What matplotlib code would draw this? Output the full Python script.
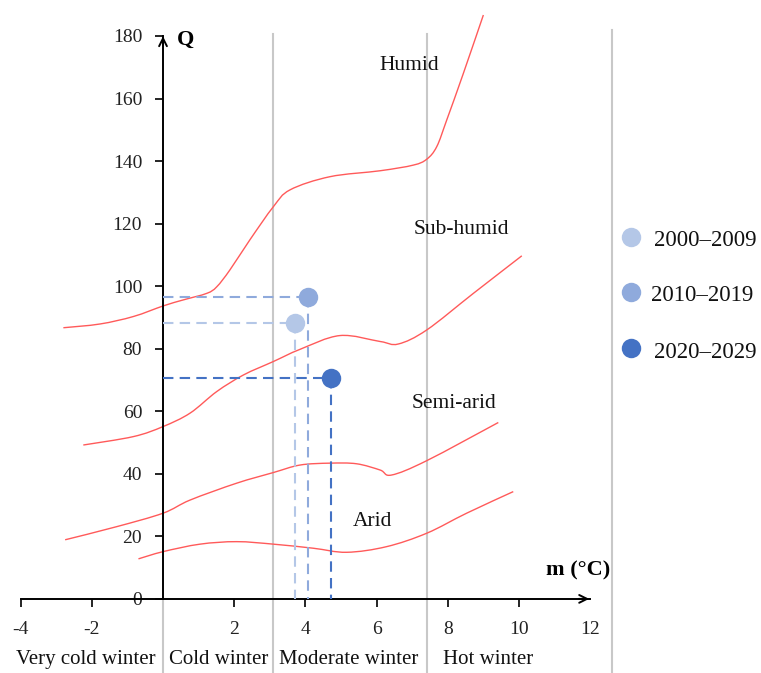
import matplotlib
matplotlib.use("Agg")
import matplotlib.pyplot as plt
import numpy as np
from matplotlib.path import Path
from matplotlib.patches import PathPatch

plt.rcParams['font.family'] = ['Liberation Serif', 'DejaVu Serif']

# ---- data ----
humid_x = [-2.80, -1.77, -0.83, 0.01, 0.57, 1.23, 1.51, 1.88, 2.44, 3.10, 3.57, 4.69, 6.10, 7.03, 7.41, 7.69, 7.97, 8.44, 9.00]
humid_y = [86.7, 87.9, 90.3, 93.7, 95.6, 97.7, 99.8, 105.2, 114.8, 125.4, 130.8, 135.0, 136.9, 138.7, 140.6, 144.6, 153.1, 168.1, 186.7]

subhumid_x = [-2.24, -0.83, 0.0, 0.76, 1.51, 2.26, 3.10, 3.85, 4.97, 6.10, 6.61, 7.41, 8.72, 10.08]
subhumid_y = [49.2, 51.9, 55.1, 59.4, 66.3, 71.6, 75.9, 79.8, 84.2, 82.3, 81.5, 86.0, 97.7, 109.7]

semiarid_x = [-2.75, -1.30, 0.0, 0.76, 2.07, 3.10, 3.85, 4.69, 5.44, 6.10, 6.42, 7.41, 9.42]
semiarid_y = [18.9, 23.1, 27.4, 31.6, 37.0, 40.4, 42.8, 43.4, 43.2, 41.2, 39.6, 44.2, 56.4]

arid_x = [-0.69, 0.0, 1.04, 2.07, 3.10, 4.22, 5.16, 6.28, 7.41, 8.53, 9.84]
arid_y = [12.8, 15.1, 17.5, 18.3, 17.5, 16.2, 14.9, 16.7, 21.0, 27.4, 34.3]

periods = ['2000\u20122009', '2010\u20122019', '2020\u20122029']
period_m = [3.71, 4.07, 4.72]
period_q = [88.2, 96.5, 70.5]
period_colors = ['#b4c7e7', '#8faadc', '#4472c4']

zone_labels = ['Humid', 'Sub-humid', 'Semi-arid', 'Arid']
zone_pos = [(6.93, 170.6), (8.39, 118.0), (8.17, 62.6), (5.88, 24.8)]

winter_labels = ['Very cold winter', 'Cold winter', 'Moderate winter', 'Hot winter']
winter_x = [-2.16, 1.57, 5.22, 9.12]
winter_bounds = [3.09, 7.42, 12.6]

xticks = [-4, -2, 2, 4, 6, 8, 10, 12]
yticks = [0, 20, 40, 60, 80, 100, 120, 140, 160, 180]


def smooth_path(xs, ys):
    """Catmull-Rom through the read points, rendered as cubic Bezier segments."""
    p = np.column_stack([xs, ys])
    verts = [p[0]]
    codes = [Path.MOVETO]
    n = len(p)
    for i in range(n - 1):
        p0 = p[i - 1] if i > 0 else p[i]
        p1, p2 = p[i], p[i + 1]
        p3 = p[i + 2] if i + 2 < n else p[i + 1]
        c1 = p1 + (p2 - p0) / 6.0
        c2 = p2 - (p3 - p1) / 6.0
        verts += [c1, c2, p2]
        codes += [Path.CURVE4] * 3
    return Path(verts, codes)


# ---- figure ----
fig = plt.figure(figsize=(7.61, 6.73), dpi=100)
ax = fig.add_axes([0, 0, 1, 1])
ax.set_xlim(-4.58, 16.8)
ax.set_ylim(-23.7, 191.5)

for s in ['top', 'right']:
    ax.spines[s].set_visible(False)
ax.spines['left'].set_position(('data', 0))
ax.spines['bottom'].set_position(('data', 0))
ax.spines['left'].set_bounds(0, 180)
ax.spines['bottom'].set_bounds(-4, 12)
for s in ['left', 'bottom']:
    ax.spines[s].set_linewidth(1.4)
    ax.spines[s].set_color('black')

ax.set_xticks(xticks)
ax.set_xticklabels([str(t) for t in xticks])
ax.set_yticks(yticks)
ax.set_yticklabels([str(t) for t in yticks])
ax.tick_params(axis='x', direction='out', length=6, width=1.2, pad=10, labelsize=14, labelcolor='#222222')
ax.tick_params(axis='y', direction='out', length=6, width=1.2, pad=9, labelsize=14, labelcolor='#222222')
ax.xaxis.get_major_ticks()[-1].tick1line.set_visible(False)

# arrow heads
ax.annotate('', xy=(12.05, 0), xytext=(11.6, 0),
            arrowprops=dict(arrowstyle='->', lw=1.4, color='black', mutation_scale=14),
            annotation_clip=False)
ax.annotate('', xy=(0, 180.8), xytext=(0, 176),
            arrowprops=dict(arrowstyle='->', lw=1.4, color='black', mutation_scale=14),
            annotation_clip=False)

# winter separators
for xb in winter_bounds:
    top = 180.7 if xb < 10 else 182
    ax.plot([xb, xb], [top, -23.7], color='#c8c8c8', lw=1.5, clip_on=False, zorder=0)
ax.plot([0, 0], [0, -23.7], color='#c8c8c8', lw=1.5, clip_on=False, zorder=0)

# climate boundary curves
for cx, cy in [(humid_x, humid_y), (subhumid_x, subhumid_y),
               (semiarid_x, semiarid_y), (arid_x, arid_y)]:
    patch = PathPatch(smooth_path(cx, cy), facecolor='none', edgecolor='#ff5a5a',
                      lw=1.0, transform=ax.transData, clip_on=False, zorder=2)
    ax.add_patch(patch)

# points and dashed guides
for m, q, c, lab in zip(period_m, period_q, period_colors, periods):
    ax.plot([0, m], [q, q], ls=(0, (5, 3)), color=c, lw=1.5, zorder=3)
    ax.plot([m, m], [q, 0], ls=(0, (5, 3)), color=c, lw=1.5, zorder=3)
    ax.plot([m], [q], 'o', ms=14, color=c, mec='none', zorder=4)

# legend (manual placement)
leg_y = [115.8, 98.2, 80.1]
leg_tx = [13.78, 13.70, 13.78]
for c, lab, ly, tx in zip(period_colors, periods, leg_y, leg_tx):
    ax.plot([13.15], [ly], 'o', ms=14, color=c, mec='none', clip_on=False)
    ax.text(tx, ly - 1.2, lab, fontsize=16.5, va='center', ha='left', color='#111111')

# zone labels
for lab, (zx, zy) in zip(zone_labels, zone_pos):
    ax.text(zx, zy, lab, fontsize=15.5, ha='center', va='center', color='#111111')

# axis titles
ax.text(0.4, 178.8, 'Q', fontsize=16, fontweight='bold', ha='left', va='center')
ax.text(12.56, 9.2, 'm (\u00b0C)', fontsize=16, fontweight='bold', ha='right', va='center')

# winter labels
for lab, wx in zip(winter_labels, winter_x):
    ax.text(wx, -19.4, lab, fontsize=15, ha='center', va='center', color='#111111')

fig.savefig('out.png', dpi=100)
